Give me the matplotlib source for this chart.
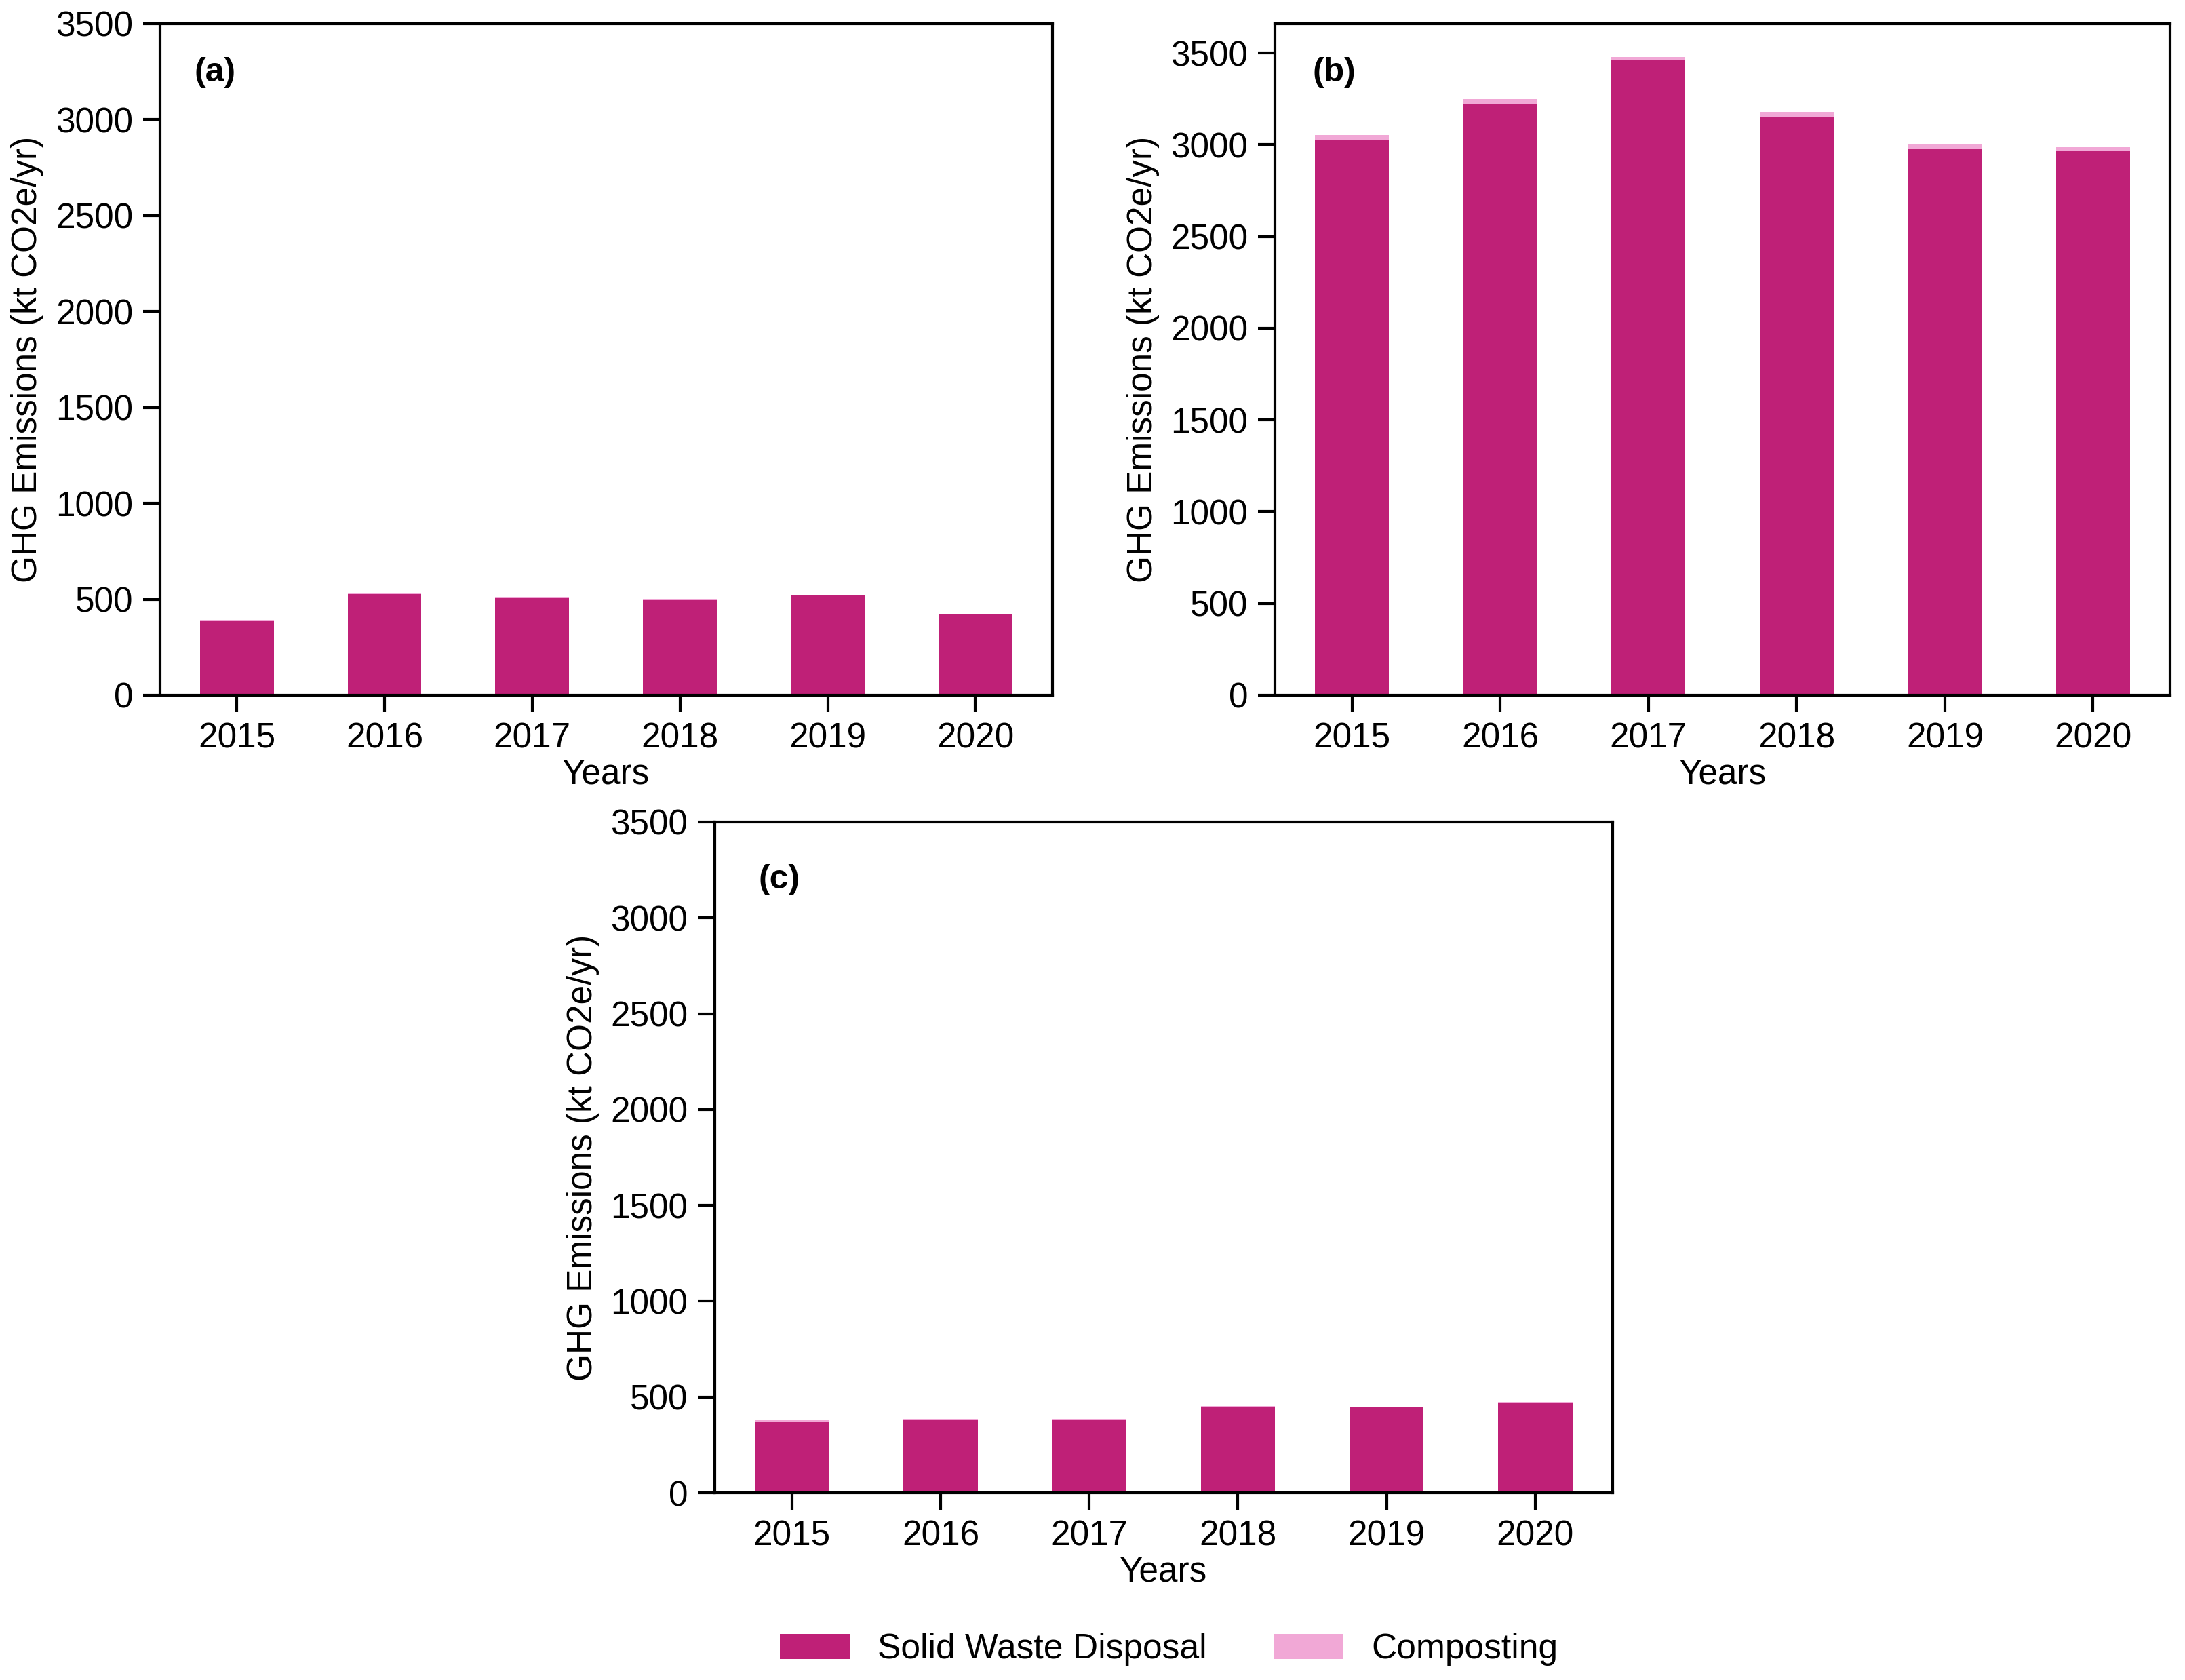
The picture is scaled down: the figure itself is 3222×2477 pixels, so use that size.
import numpy as np
import matplotlib
matplotlib.use("Agg")
import matplotlib.pyplot as plt

plt.rcParams["font.family"] = ["Liberation Sans", "DejaVu Sans"]
plt.rcParams["font.size"] = 12.3

years = ["2015", "2016", "2017", "2018", "2019", "2020"]

# panel (a)
solid_a = [388, 525, 508, 499, 518, 420]
compost_a = [4, 4, 4, 4, 4, 4]
# panel (b)
solid_b = [3028, 3224, 3460, 3151, 2981, 2966]
compost_b = [25, 24, 19, 27, 25, 22]
# panel (c)
solid_c = [372, 379, 381, 447, 446, 468]
compost_c = [6, 6, 6, 5, 5, 5]

C_SOLID = "#BF2077"
C_COMP = "#F1A8D6"

fig = plt.figure(figsize=(3222 / 300, 2477 / 300), dpi=300)

panels = [
    ([0.0732, 0.5862, 0.4084, 0.3997], solid_a, compost_a, 3500, "(a)", (0.062, 0.927)),
    ([0.5835, 0.5862, 0.4097, 0.3997], solid_b, compost_b, 3660, "(b)", (0.066, 0.927)),
    ([0.3271, 0.1114, 0.4109, 0.3993], solid_c, compost_c, 3500, "(c)", (0.072, 0.914)),
]

x = np.arange(len(years))
for rect, solid, comp, ytop, lab, lpos in panels:
    ax = fig.add_axes(rect)
    ax.bar(x, solid, width=0.5, color=C_SOLID, label="Solid Waste Disposal")
    ax.bar(x, comp, width=0.5, bottom=solid, color=C_COMP, label="Composting")
    ax.set_xlim(-0.52, 5.52)
    ax.set_ylim(0, ytop)
    ax.set_yticks(np.arange(0, 3501, 500))
    ax.set_xticks(x)
    ax.set_xticklabels(years)
    ax.set_xlabel("Years", labelpad=1)
    ax.set_ylabel("GHG Emissions (kt CO2e/yr)")
    ax.tick_params(direction="out", length=6, width=1.0, labelsize=12.3)
    for s in ax.spines.values():
        s.set_linewidth(1.0)
    ax.text(lpos[0], lpos[1], lab, transform=ax.transAxes, fontsize=12,
            fontweight="bold", ha="center", va="center")

handles, labels = ax.get_legend_handles_labels()
fig.legend(handles, labels, loc="center", bbox_to_anchor=(0.535, 1 - 2432 / 2477),
           ncol=2, frameon=False, fontsize=12.4, handlelength=2.0, handleheight=0.75,
           handletextpad=0.8, columnspacing=1.9)

fig.savefig("out.png", dpi=300)
